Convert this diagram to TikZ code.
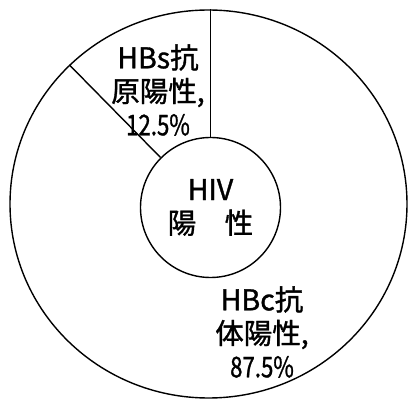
\documentclass[tikz,border=0pt]{standalone}
\usepackage{fontspec}
\setmainfont{Noto Sans CJK JP}[FakeBold=1.2]
\usetikzlibrary{shapes.geometric}
\newcommand{\narrownum}[1]{\scalebox{0.78}[1]{#1}}
\begin{document}
\begin{tikzpicture}[x=1pt,y=-1pt,
  ring/.style={draw=black,line width=1.4pt,fill=white,inner sep=0pt},
  sep/.style={draw=black,line width=1.4pt},
  lbl/.style={align=center,inner sep=0pt,font=\fontsize{28.5}{33.5}\selectfont}]
\useasboundingbox (0,0) rectangle (408,401);
\node[ring,ellipse,minimum width=397pt,minimum height=388pt] (outer) at (208.5,204) {};
\node[ring,circle,minimum size=140pt,lbl] (inner) at (210.5,207.5) {HIV\\陽　性};
\coordinate (top) at (inner.north |- outer.north);
\draw[sep] (inner.north) -- (top);
\draw[sep] (inner.135) -- (outer.135);
\node[lbl] (hbs) at (158,90) {HBs抗\\原陽性,\\\narrownum{12.5\%}};
\node[lbl] (hbc) at (262,332) {HBc抗\\体陽性,\\\narrownum{87.5\%}};
\end{tikzpicture}
\end{document}
